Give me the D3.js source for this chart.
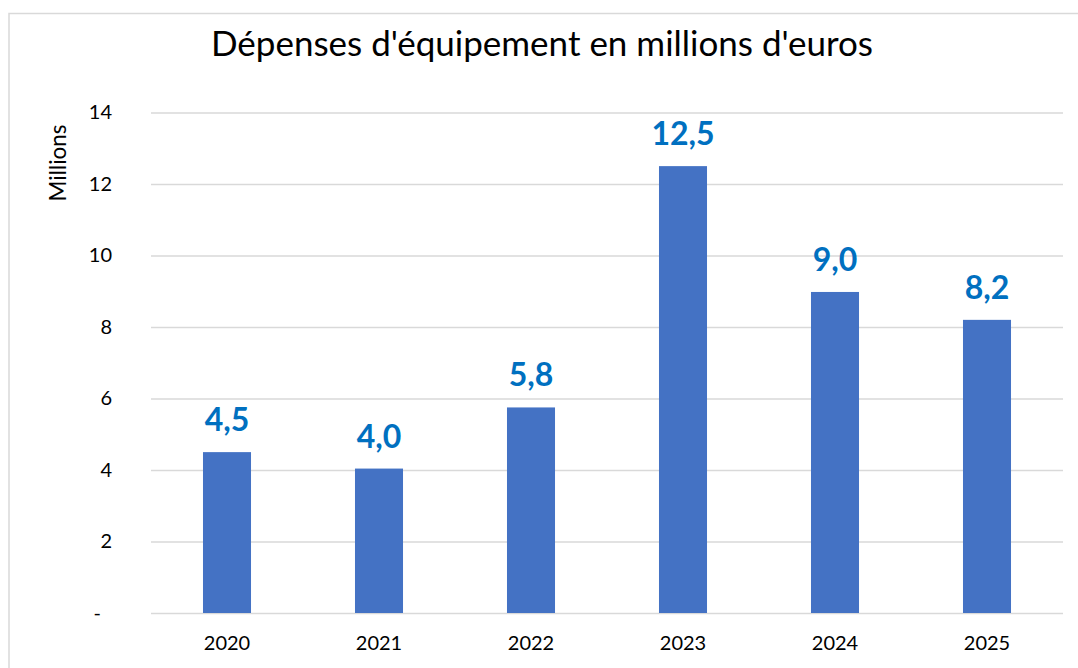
<!DOCTYPE html>
<html lang="fr">
	<head>
		<meta charset="utf-8">
		<title>Dépenses d'équipement</title>
		<script type="text/javascript" src="https://cdn.jsdelivr.net/npm/d3@7"></script>
		<style type="text/css">
			body {
				margin: 0;
				background: #fff;
			}
			svg text {
				font-family: Lato, "Open Sans", sans-serif;
				fill: #000;
			}
			.grid line {
				stroke: #d9d9d9;
				stroke-width: 1.5;
			}
			.tick text {
				font-size: 20px;
			}
			.label {
				font-weight: bold;
				font-size: 32px;
				fill: #0070c0 !important;
				text-anchor: middle;
			}
		</style>
	</head>
	<body>
		<script type="text/javascript">

			//Width and height
			var w = 1078;
			var h = 668;

			//data
			var years = ["2020", "2021", "2022", "2023", "2024", "2025"];
			var spending = [4.5, 4.04, 5.75, 12.5, 8.98, 8.2];
			var yTicks = [0, 2, 4, 6, 8, 10, 12, 14];

			//plot area
			var plotLeft = 151, plotRight = 1063, plotTop = 112.5, plotBottom = 613;

			var svg = d3.select("body")
				.append("svg")
				.attr("width", w)
				.attr("height", h);

			//chart frame (only left and top edges are in view)
			svg.append("path")
				.attr("d", "M9,668V13.5H1078")
				.attr("fill", "none")
				.attr("stroke", "#d9d9d9")
				.attr("stroke-width", 1.5);

			var x = d3.scaleBand()
				.domain(years)
				.range([plotLeft, plotRight])
				.paddingInner(0.684)
				.paddingOuter(0.342);

			var y = d3.scaleLinear()
				.domain([0, 14])
				.range([plotBottom, plotTop]);

			//gridlines + y labels
			var yAxis = svg.append("g")
				.attr("class", "grid")
				.attr("transform", "translate(" + plotLeft + ",0)")
				.call(d3.axisLeft(y)
					.tickValues(yTicks)
					.tickSize(-(plotRight - plotLeft))
					.tickPadding(39)
					.tickFormat(function (d) {
						return d === 0 ? "-" : d;
					}));
			yAxis.select(".domain").remove();
			yAxis.selectAll(".tick text")
				.attr("dx", function (d) { return d === 0 ? -11 : 0; });

			//x labels
			var xAxis = svg.append("g")
				.attr("transform", "translate(0," + plotBottom + ")")
				.call(d3.axisBottom(x).tickSize(0).tickPadding(23));
			xAxis.select(".domain").remove();

			//bars
			svg.selectAll("rect")
				.data(spending)
				.enter()
				.append("rect")
				.attr("x", function (d, i) { return x(years[i]); })
				.attr("width", x.bandwidth())
				.attr("y", function (d) { return y(d); })
				.attr("height", function (d) { return plotBottom - y(d); })
				.attr("fill", "#4472c4");

			//value labels
			svg.selectAll(".label")
				.data(spending)
				.enter()
				.append("text")
				.attr("class", "label")
				.attr("x", function (d, i) { return x(years[i]) + x.bandwidth() / 2; })
				.attr("y", function (d) { return y(d) - 21; })
				.text(function (d) { return d.toFixed(1).replace(".", ","); });

			//title
			svg.append("text")
				.attr("x", 542)
				.attr("y", 56)
				.attr("text-anchor", "middle")
				.style("font-size", "35px")
				.text("Dépenses d'équipement en millions d'euros");

			//y axis title
			svg.append("text")
				.attr("transform", "translate(66,163) rotate(-90)")
				.attr("text-anchor", "middle")
				.style("font-size", "22.5px")
				.text("Millions");

		</script>
	</body>
</html>
